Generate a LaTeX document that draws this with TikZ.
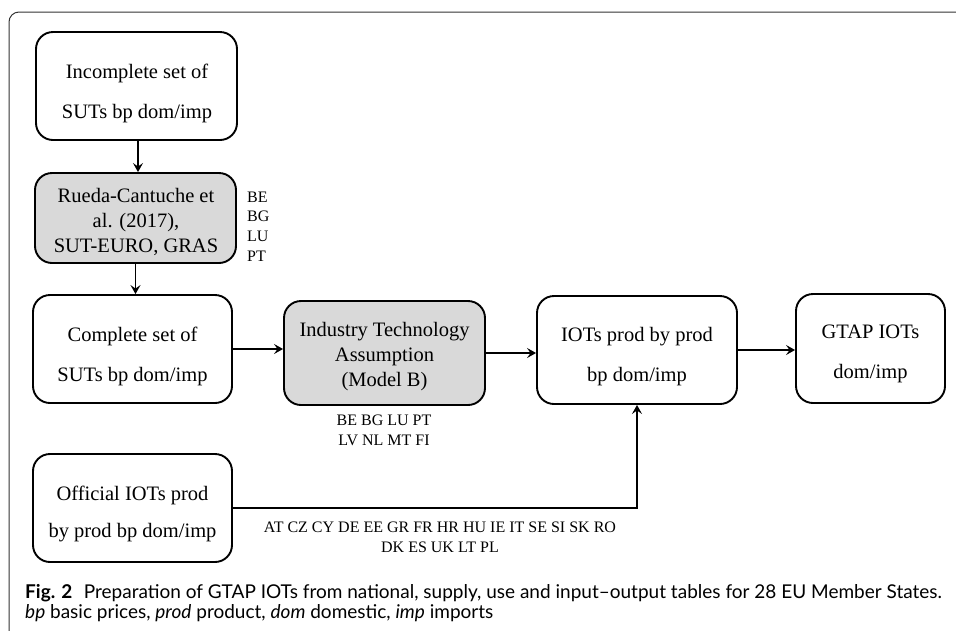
\documentclass[tikz,border=0pt]{standalone}
\usepackage{fontspec}
\setmainfont{Liberation Serif}
\newfontfamily\capfont{Lato}
\usetikzlibrary{arrows.meta}
\definecolor{gbox}{RGB}{217,217,217}
\definecolor{framec}{RGB}{50,50,50}
\begin{document}
\begin{tikzpicture}[x=1pt,y=-1pt,
  box/.style={draw, line width=1.9pt, rounded corners=17pt, inner sep=0pt},
  txt/.style={align=center, inner sep=0pt},
  twoline/.style={txt, font=\fontsize{20.5}{40}\selectfont},
  threeline/.style={txt, font=\fontsize{20.5}{25}\selectfont},
  lab/.style={font=\fontsize{16}{19.7}\selectfont, align=center, inner sep=0pt},
  capt/.style={anchor=base west, inner sep=0pt, font=\capfont\fontsize{19}{20}\selectfont},
  arr/.style={line width=1.2pt, -{Stealth[length=9pt,width=10pt,inset=3.5pt]}}]
\useasboundingbox (0,0) rectangle (956,630);
\draw[framec, line width=1pt, rounded corners=10pt] (957,12) -- (9,12) -- (9,631);

\node[box, minimum width=201pt, minimum height=108pt] (b1) at (136.5,86) {};
\node[box, fill=gbox, minimum width=201pt, minimum height=90pt] (b2) at (135.5,218) {};
\node[box, minimum width=199pt, minimum height=108pt] (b3) at (132.5,349) {};
\node[box, fill=gbox, minimum width=201pt, minimum height=104pt] (b4) at (384.5,353) {};
\node[box, minimum width=200pt, minimum height=108pt] (b5) at (637,350) {};
\node[box, minimum width=149pt, minimum height=109pt] (b6) at (870.5,348.5) {};
\node[box, minimum width=199pt, minimum height=108pt] (b7) at (132.5,508) {};

\node[twoline] (t1) at (137,93) {Incomplete set of\\SUTs bp dom/imp};
\node[threeline] (t2) at (136,222) {Rueda-Cantuche et\\al. (2017),\\SUT-EURO, GRAS};
\node[twoline] (t3) at (132.5,356) {Complete set of\\SUTs bp dom/imp};
\node[threeline] (t4) at (384.5,357) {Industry Technology\\Assumption\\(Model B)};
\node[twoline] (t5) at (637,357) {IOTs prod by prod\\bp dom/imp};
\node[twoline] (t6) at (870.5,354) {GTAP IOTs\\dom/imp};
\node[txt, font=\fontsize{20.5}{37}\selectfont] (t7) at (132.5,514) {Official IOTs prod\\by prod bp dom/imp};

\node[lab, anchor=west, align=left] (l2) at (247,226.5) {BE\\BG\\LU\\PT};
\node[lab] (l4) at (384,430.5) {BE BG LU PT\\LV NL MT FI};
\node[lab] (l7) at (440,537) {AT CZ CY DE EE GR FR HR HU IE IT SE SI SK RO\\DK ES UK LT PL};

\coordinate (a1) at (138,0);
\draw[arr] (b1.south -| a1) -- (b2.north -| a1);
\draw[arr] (b2.south) -- (b2.south |- b3.north);
\draw[arr] (b3.east) -- (b3.east -| b4.west);
\draw[arr] (b4.east) -- (b4.east -| b5.west);
\draw[arr] (b5.east) -- (b5.east -| b6.west);
\draw[arr] (b7.east) -| (b5.south);

\node[capt] (cap1) at (25,598) {\textbf{Fig. 2}\hspace{0.6em}Preparation of GTAP IOTs from national, supply, use and input–output tables for 28 EU Member States.};
\node[capt] (cap2) at (25,618) {\textit{bp} basic prices, \textit{prod} product, \textit{dom} domestic, \textit{imp} imports};
\end{tikzpicture}
\end{document}
